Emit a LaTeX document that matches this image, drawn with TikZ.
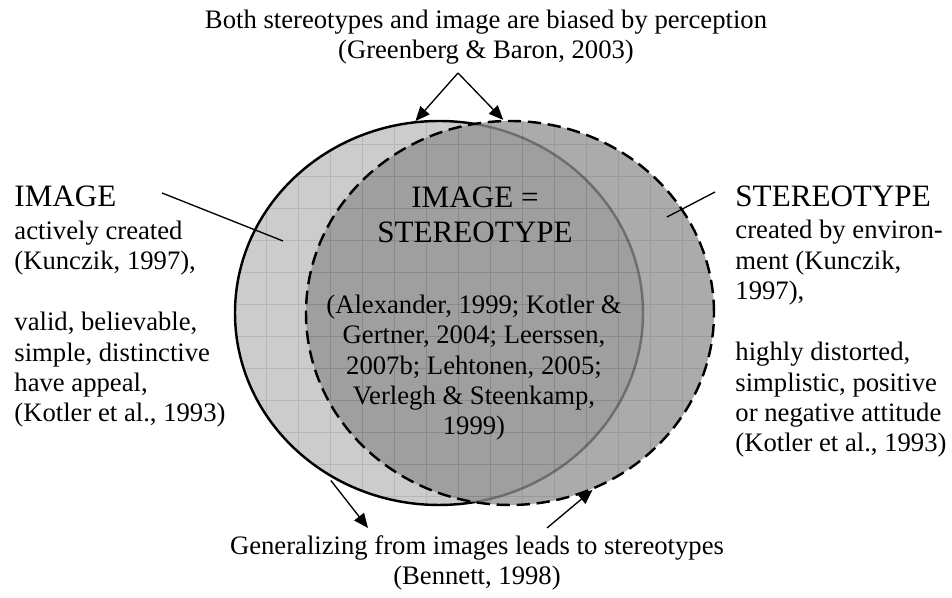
\documentclass[tikz,border=0pt]{standalone}
\usepackage{fontspec}
\setmainfont{Liberation Serif}
\usetikzlibrary{arrows.meta,shapes.geometric}
\tikzset{
	side text/.style={
		font=\fontsize{12}{13.7}\selectfont,
		align=left,
		inner sep=0pt
	},
	mid text/.style={
		font=\fontsize{12}{13.7}\selectfont,
		align=center,
		inner sep=0pt
	},
	title text/.style={
		font=\fontsize{14}{15.75}\selectfont,
		align=left,
		inner sep=0pt
	},
	venn/.style={
		ellipse,
		minimum width=183.6pt,
		minimum height=172.8pt,
		inner sep=0pt,
		line width=1.1pt
	},
	venn image/.style={venn, draw, fill=black!20},
	venn stereotype/.style={venn, draw, dash pattern=on 6pt off 3pt,
		fill=black!43, fill opacity=0.76},
	venn grid/.style={black, opacity=0.1, line width=0.4pt},
}

\begin{document}
\begin{tikzpicture}[x=0.45pt, y=0.45pt, >={Triangle[length=6.5pt, width=5.5pt]}]

\useasboundingbox (0,0) rectangle (952,598);

% the two circles
\node [venn image] (image) at (439,285) {};
\begin{scope}
	\clip (439,285) ellipse [x radius=204, y radius=192];
	\draw [venn grid, shift={(10,6)}] (192,64) grid [step={(32,32)}] (672,512);
\end{scope}
\node [venn stereotype] (stereotype) at (510,285) {};
\begin{scope}
	\clip (510,285) ellipse [x radius=204, y radius=192];
	\draw [venn grid, shift={(10,6)}] (288,64) grid [step={(32,32)}] (736,512);
\end{scope}

% labels (base = last line)
\node [title text, anchor=base west] (image-title) at (14,391) {IMAGE};
\node [side text, anchor=base west] (image-text) at (14,176)
	{actively created\\(Kunczik, 1997),\\[13.7pt]valid, believable,\\simple, distinctive\\have appeal,\\(Kotler et al., 1993)};

\node [title text, anchor=base west] (stereotype-title) at (735,391) {STEREOTYPE};
\node [side text, anchor=base west] (stereotype-text) at (735,146)
	{created by environ-\\ment (Kunczik,\\1997),\\[13.7pt]highly distorted,\\simplistic, positive\\or negative attitude\\(Kotler et al., 1993)};

\node [title text, align=center, anchor=base] (both-title) at (475,355) {IMAGE =\\STEREOTYPE};
\node [mid text, anchor=base] (both-text) at (474,163)
	{(Alexander, 1999; Kotler \&\\Gertner, 2004; Leerssen,\\2007b; Lehtonen, 2005;\\Verlegh \& Steenkamp,\\1999)};

\node [mid text, anchor=base] (perception) at (486,539)
	{Both stereotypes and image are biased by perception\\(Greenberg \& Baron, 2003)};
\node [mid text, anchor=base] (generalizing) at (477,13)
	{Generalizing from images leads to stereotypes\\(Bennett, 1998)};

% connectors
\coordinate (image-from) at (162,405);
\coordinate (image-pin) at (283,357);
\coordinate (stereotype-from) at (715,406);
\coordinate (stereotype-pin) at (667,381);
\coordinate (perception-fork) at (458,525);
\coordinate (generalizing-in) at (368,70);
\coordinate (generalizing-out) at (547,70);

\draw [line width=0.6pt] (image-from) -- (image-pin);
\draw [line width=0.6pt] (stereotype-from) -- (stereotype-pin);

\draw [->, line width=0.6pt] (perception-fork) -- (image.97);
\draw [->, line width=0.6pt] (perception-fork) -- (stereotype.92);

\draw [->, line width=0.6pt, shorten <=3.5pt] (image.235) -- (generalizing-in);
\draw [->, line width=0.6pt] (generalizing-out) -- (stereotype.295);

\end{tikzpicture}
\end{document}
